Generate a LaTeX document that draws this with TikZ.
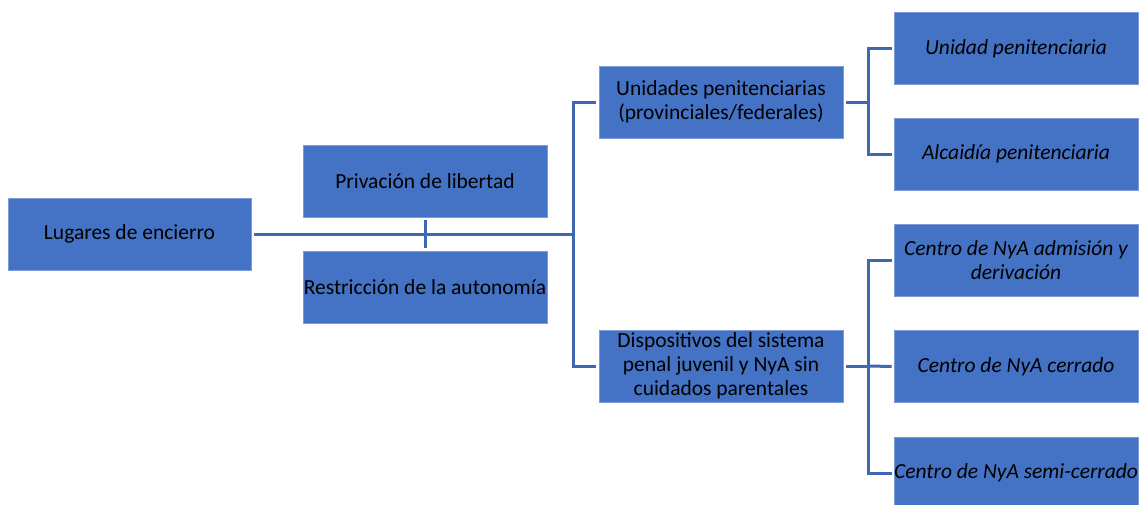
\documentclass[tikz,border=0pt]{standalone}
\usepackage{fontspec}
\setmainfont{Carlito}
\definecolor{boxblue}{HTML}{4472C4}
\definecolor{lineblue}{HTML}{4068B2}
\begin{document}
\begin{tikzpicture}[x=1pt,y=-1pt,
  box/.style={rectangle, fill=boxblue, draw=boxblue!70!white, line width=0.6pt,
    minimum width=244pt, minimum height=72pt, inner sep=0pt, align=center,
    font=\fontsize{21.5}{24}\selectfont, text=black},
  ibox/.style={box, font=\fontsize{21.5}{24}\selectfont\itshape},
  conn/.style={draw=lineblue, line width=3pt}]
\useasboundingbox (0,0) rectangle (1142,504);
\node[box, minimum width=243pt] (lug) at (129.5,234) {Lugares de encierro};
\node[box] (priv) at (425,181) {Privación de libertad};
\node[box] (restr) at (425,287) {Restricción de la autonomía};
\node[box] (uni) at (721,102) {Unidades penitenciarias\\(provinciales/federales)};
\node[box] (disp) at (721,366) {Dispositivos del sistema\\penal juvenil y NyA sin\\cuidados parentales};
\node[ibox] (u1) at (1016,48.5) {Unidad penitenciaria};
\node[ibox] (u2) at (1016,154) {Alcaidía penitenciaria};
\node[ibox] (d1) at (1016,260.5) {Centro de NyA admisión y\\derivación};
\node[ibox] (d2) at (1016,366.5) {Centro de NyA cerrado};
\node[ibox] (d3) at (1016,473) {Centro de NyA semi-cerrado};
\coordinate (bus) at (573,234);
\coordinate (bu) at (868,102);
\coordinate (bd) at (868,366);
% main
\draw[conn, shorten <=3pt] (lug.east) -- (bus);
\draw[conn, shorten <=3pt, shorten >=3pt] (priv.south) -- (restr.north);
\draw[conn, shorten <=3pt] (uni.west) -| (bus);
\draw[conn, shorten <=3pt] (disp.west) -| (bus);
% upper branch
\draw[conn, shorten <=3pt] (uni.east) -- (bu);
\draw[conn, shorten <=2pt] (u1.west) -| (bu);
\draw[conn, shorten <=2pt] (u2.west) -| (bu);
% lower branch
\draw[conn, shorten <=3pt] (disp.east) -- (bd);
\draw[conn, shorten <=2pt] (d1.west) -| (bd);
\draw[conn, shorten <=2pt] (d2.west) -- (bd);
\draw[conn, shorten <=2pt] (d3.west) -| (bd);
\end{tikzpicture}
\end{document}
